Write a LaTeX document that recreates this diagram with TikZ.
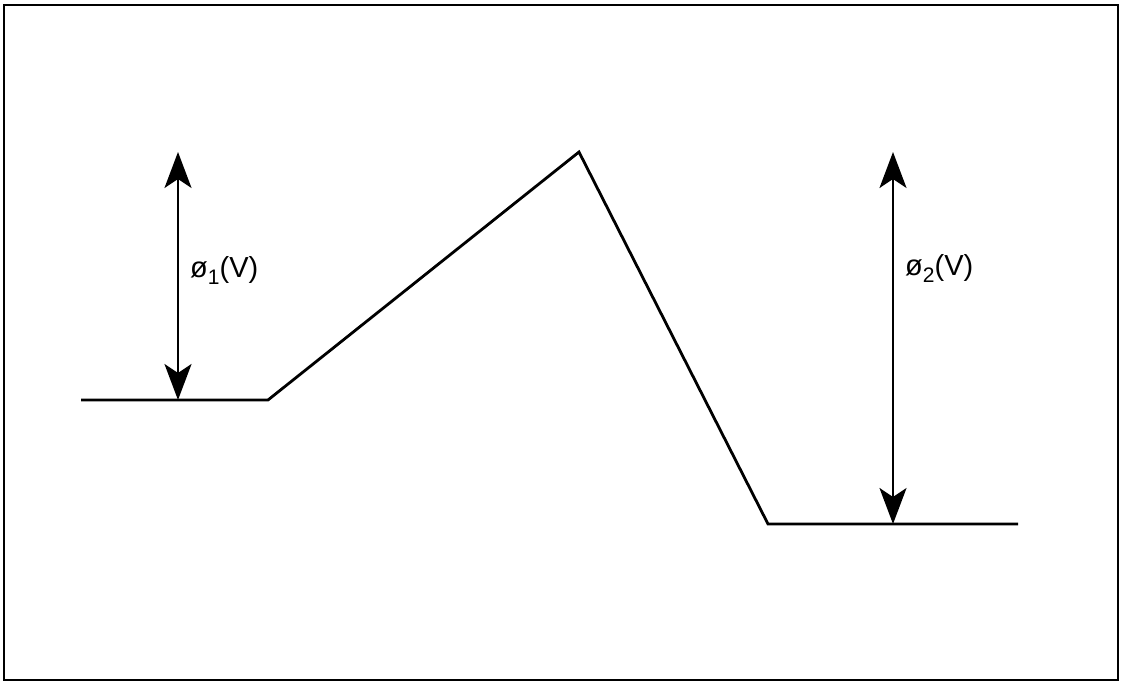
\documentclass[tikz,border=0pt]{standalone}
\usepackage{fontspec}
\setmainfont{Liberation Sans}
\usetikzlibrary{arrows.meta}
\newcommand{\lowsub}[1]{\raisebox{-7pt}{\fontsize{21pt}{24pt}\selectfont #1}}
\tikzset{
  curve/.style={line width=2.8pt, line join=miter},
  dim/.style={line width=2.4pt, {Stealth[length=36pt,width=27pt,inset=9pt]}-{Stealth[length=36pt,width=27pt,inset=9pt]}},
  lbl/.style={font=\fontsize{29pt}{33pt}\selectfont, anchor=west, inner sep=0pt}
}
\begin{document}
\begin{tikzpicture}[x=1pt,y=-1pt]
\useasboundingbox (0,0) rectangle (1122,684);
\draw[line width=2.2pt] (4,5) rectangle (1118,680);
% waveform
\coordinate (a) at (81,400);
\coordinate (b) at (268,400);
\coordinate (c) at (579,152);
\coordinate (d) at (768,524);
\coordinate (e) at (1018,524);
\draw[curve] (a) -- (b) -- (c) -- (d) -- (e);
% dimension arrows
\coordinate (t1) at (178,152);
\coordinate (b1) at (178,400);
\coordinate (t2) at (893,152);
\coordinate (b2) at (893,524);
\draw[dim] (t1) -- (b1);
\draw[dim] (t2) -- (b2);
\node[lbl] (l1) at (190,270) {ø\lowsub{1}(V)};
\node[lbl] (l2) at (905,268) {ø\lowsub{2}(V)};
\end{tikzpicture}
\end{document}
